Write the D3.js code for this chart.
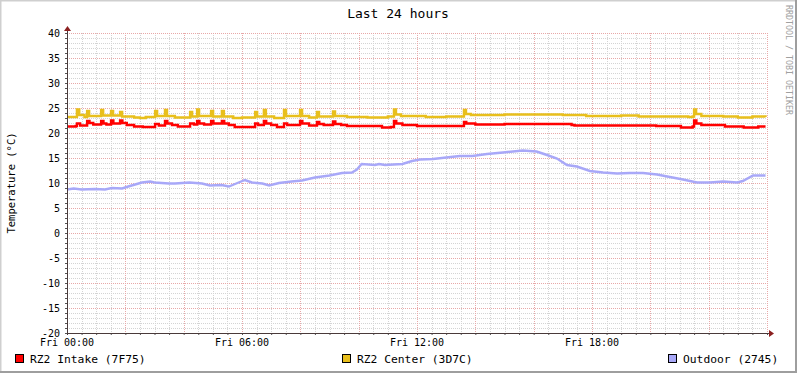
<!DOCTYPE html>
<html>
<head>
<meta charset="utf-8">
<script src="https://cdn.jsdelivr.net/npm/d3@7"></script>
<style>
  body { margin: 0; background: #fff; }
  text { font-family: "DejaVu Sans Mono", monospace; fill: #000; }
</style>
</head>
<body>
<div id="chart"></div>
<script>
// data: [hour since Fri 00:00, temperature °C]
var intake = [
  [0, 21.3], [0.3, 21.4], [0.34, 21.9], [0.45, 21.5], [0.69, 22.4], [0.77, 22.0], [0.9, 21.7],
  [1.17, 22.4], [1.25, 21.9], [1.35, 21.7], [1.51, 22.5], [1.59, 21.9], [1.82, 22.5], [1.9, 22.0], [2.05, 21.6],
  [2.3, 21.3], [2.6, 21.2], [3.02, 21.8], [3.15, 21.5], [3.36, 22.4], [3.44, 21.9], [3.6, 21.6], [3.8, 21.3],
  [4.22, 21.9], [4.35, 21.7], [4.46, 22.4], [4.54, 21.9], [4.7, 21.7], [4.94, 22.4], [5.02, 21.9], [5.31, 22.4],
  [5.39, 21.9], [5.55, 21.6], [5.75, 21.2], [6.45, 21.9], [6.55, 21.6], [6.75, 22.4], [6.83, 21.9], [7.0, 21.6], [7.2, 21.2],
  [7.44, 21.9], [7.55, 21.6], [7.99, 22.4], [8.07, 21.9], [8.3, 21.5], [8.57, 22.2], [8.65, 21.8], [8.8, 21.6],
  [9.12, 22.3], [9.2, 21.8], [9.4, 21.6], [9.6, 21.4], [10.8, 21.1], [11.1, 21.2], [11.21, 22.4], [11.29, 21.9],
  [11.5, 21.6], [12.0, 21.4], [13.61, 22.2], [13.69, 21.9], [14.0, 21.7], [15.0, 21.8], [17.3, 21.6],
  [17.4, 21.5], [20.2, 21.4], [21.05, 21.1], [21.45, 21.3], [21.5, 22.5], [21.58, 21.9], [21.75, 21.6],
  [22.56, 21.3], [23.2, 21.1], [23.7, 21.3], [23.95, 21.3]
];
var center = [
  [0, 23.2], [0.3, 23.2], [0.34, 24.7], [0.42, 23.6], [0.6, 23.2], [0.69, 24.4], [0.76, 23.4],
  [1.17, 24.6], [1.24, 23.5], [1.51, 24.4], [1.58, 23.5], [1.82, 24.2], [1.89, 23.3], [2.3, 23.1],
  [2.5, 23.0], [2.7, 23.2], [3.02, 24.4], [3.09, 23.4], [3.36, 24.6], [3.43, 23.4], [3.7, 23.1],
  [4.22, 24.2], [4.29, 23.3], [4.46, 24.7], [4.53, 23.4], [4.94, 24.4], [5.01, 23.3], [5.31, 24.4],
  [5.38, 23.3], [5.7, 23.0], [6.0, 23.1], [6.45, 24.2], [6.52, 23.3], [6.75, 24.6], [6.82, 23.3],
  [7.1, 23.0], [7.44, 24.6], [7.51, 23.4], [7.99, 24.6], [8.06, 23.4], [8.3, 23.1], [8.57, 24.2],
  [8.64, 23.3], [9.12, 24.3], [9.19, 23.4], [9.6, 23.2], [10.3, 23.1], [11.0, 23.3], [11.21, 24.7],
  [11.28, 23.7], [11.45, 23.4], [12.3, 23.2], [13.0, 23.3], [13.61, 24.6], [13.68, 23.8], [13.85, 23.6],
  [15.0, 23.7], [17.0, 23.6], [17.8, 23.4], [19.0, 23.5], [19.6, 23.3], [21.3, 23.2], [21.45, 23.3],
  [21.5, 24.7], [21.57, 23.8], [21.75, 23.4], [22.5, 23.3], [23.0, 23.1], [23.5, 23.3], [23.95, 23.2]
];
var outdoor = [
  [0, 8.7], [0.23, 8.9], [0.5, 8.7], [0.96, 8.8], [1.3, 8.7], [1.54, 9.0], [1.89, 8.9], [2.1, 9.3],
  [2.57, 10.1], [2.85, 10.3], [3.0, 10.1], [3.5, 9.9], [3.7, 9.9], [4.2, 10.1], [4.63, 9.9], [4.9, 9.5],
  [5.3, 9.6], [5.55, 9.3], [5.76, 9.8], [6.1, 10.6], [6.34, 10.1], [6.7, 9.9], [6.93, 9.5], [7.27, 10.0],
  [7.7, 10.3], [8.06, 10.5], [8.5, 11.1], [9.0, 11.5], [9.43, 12.0], [9.77, 12.1], [9.94, 12.7],
  [10.1, 13.8], [10.56, 13.6], [10.7, 13.8], [10.9, 13.6], [11.5, 13.8], [11.83, 14.4], [12.1, 14.7],
  [12.55, 14.8], [13.0, 15.1], [13.47, 15.4], [13.9, 15.4], [14.4, 15.8], [14.95, 16.1], [15.63, 16.5],
  [16.1, 16.3], [16.46, 15.6], [16.8, 14.9], [17.14, 13.6], [17.48, 13.3], [17.93, 12.4], [18.38, 12.1],
  [18.86, 11.9], [19.3, 12.0], [19.75, 12.0], [20.23, 11.7], [20.67, 11.2], [21.12, 10.7], [21.6, 10.1],
  [22.04, 10.1], [22.5, 10.3], [22.97, 10.1], [23.17, 10.4], [23.52, 11.5], [23.95, 11.5]
];
var seriesNames = ["RZ2 Intake (7F75)", "RZ2 Center (3D7C)", "Outdoor (2745)"];
var seriesColors = ["#ff0000", "#e8bf1c", "#a8a8f8"];
var yTicks = [-20, -15, -10, -5, 0, 5, 10, 15, 20, 25, 30, 35, 40];
var xLabels = ["Fri 00:00", "Fri 06:00", "Fri 12:00", "Fri 18:00"];

var svgWidth = 797;
var svgHeight = 373;
var margin = { top: 33, left: 67 };
var width = 700;
var height = 300;

var svg = d3.select("#chart")
  .append("svg")
  .attr("width", svgWidth)
  .attr("height", svgHeight);

// frame (3d look like rrdtool)
svg.append("rect").attr("width", svgWidth).attr("height", svgHeight).attr("fill", "#fff");
svg.append("path").attr("d", `M0.5,${svgHeight} V0.5 H${svgWidth}`)
  .attr("stroke", "#cfcfcf").attr("stroke-width", 2).attr("fill", "none");
svg.append("path").attr("d", `M${svgWidth - 1},0 V${svgHeight - 1} H0`)
  .attr("stroke", "#9e9e9e").attr("stroke-width", 2).attr("fill", "none");

var chartGroup = svg.append("g")
  .attr("transform", `translate(${margin.left}, ${margin.top})`);

var x = d3.scaleLinear().domain([0, 24]).range([0, width]);
var y = d3.scaleLinear().domain([-20, 40]).range([height, 0]);

// grid: minor every 30 min / 1 degree, major every 2h / 5 degrees
var minorX = d3.range(0, 24.01, 0.5).filter(h => h % 2 !== 0);
var majorX = d3.range(0, 24.01, 2);
var minorY = d3.range(-20, 40.01, 1).filter(v => v % 5 !== 0);

chartGroup.append("g").selectAll("line").data(minorX).enter().append("line")
  .attr("x1", d => Math.round(x(d)) + 0.5).attr("x2", d => Math.round(x(d)) + 0.5)
  .attr("y1", 0).attr("y2", height)
  .attr("stroke", "#d4d4d4").attr("stroke-dasharray", "1,1");
chartGroup.append("g").selectAll("line").data(minorY).enter().append("line")
  .attr("y1", d => Math.round(y(d)) + 0.5).attr("y2", d => Math.round(y(d)) + 0.5)
  .attr("x1", 0).attr("x2", width)
  .attr("stroke", "#d4d4d4").attr("stroke-dasharray", "1,1");
chartGroup.append("g").selectAll("line").data(majorX).enter().append("line")
  .attr("x1", d => Math.round(x(d)) + 0.5).attr("x2", d => Math.round(x(d)) + 0.5)
  .attr("y1", 0).attr("y2", height)
  .attr("stroke", "#e8a8a8").attr("stroke-dasharray", "1,1");
chartGroup.append("g").selectAll("line").data(yTicks).enter().append("line")
  .attr("y1", d => Math.round(y(d)) + 0.5).attr("y2", d => Math.round(y(d)) + 0.5)
  .attr("x1", 0).attr("x2", width)
  .attr("stroke", "#e8a8a8").attr("stroke-dasharray", "1,1");

// series lines
var line = d3.line().x(d => x(d[0])).y(d => y(d[1]));
var allSeries = [outdoor, center, intake];
var allColors = [seriesColors[2], seriesColors[1], seriesColors[0]];
allSeries.forEach(function(s, i) {
  chartGroup.append("path")
    .datum(s)
    .attr("fill", "none")
    .attr("stroke", allColors[i])
    .attr("stroke-width", 2.4)
    .attr("d", i === 0 ? line.curve(d3.curveLinear)(s) : line.curve(d3.curveStepAfter)(s));
});

// axes
var xAxis = d3.axisBottom(x).tickValues(d3.range(0, 24.01, 0.5)).tickSize(2).tickFormat("");
var yAxis = d3.axisLeft(y).tickValues(d3.range(-20, 40.01, 1)).tickSize(2).tickFormat("");
chartGroup.append("g").attr("transform", `translate(0, ${height})`).call(xAxis)
  .call(g => g.select(".domain").remove())
  .selectAll("line").attr("stroke", "#555");
chartGroup.append("g").call(yAxis)
  .call(g => g.select(".domain").remove())
  .selectAll("line").attr("stroke", "#555");

chartGroup.append("line").attr("x1", 0).attr("x2", width + 2)
  .attr("y1", height + 0.5).attr("y2", height + 0.5).attr("stroke", "#4a3a3a");
chartGroup.append("line").attr("x1", 0.5).attr("x2", 0.5)
  .attr("y1", height + 2).attr("y2", -3).attr("stroke", "#4a3a3a");
// arrows
chartGroup.append("path").attr("d", `M${width + 2},${height - 3} L${width + 7},${height + 0.5} L${width + 2},${height + 4} Z`)
  .attr("fill", "#8b2020");
chartGroup.append("path").attr("d", `M-3,-2 L0.5,-7 L4,-2 Z`).attr("fill", "#8b2020");

// tick labels
chartGroup.append("g").selectAll("text").data(yTicks).enter().append("text")
  .attr("x", -7).attr("y", d => y(d) + 3.5)
  .attr("text-anchor", "end").attr("font-size", "10px")
  .text(d => d);
chartGroup.append("g").selectAll("text").data(xLabels).enter().append("text")
  .attr("x", (d, i) => x(i * 6)).attr("y", height + 13)
  .attr("text-anchor", "middle").attr("font-size", "10px")
  .text(d => d);

// title, axis label, watermark
svg.append("text").attr("x", 398).attr("y", 18).attr("text-anchor", "middle")
  .attr("font-size", "13px").text("Last 24 hours");
svg.append("text").attr("transform", "translate(15, 183) rotate(-90)")
  .attr("text-anchor", "middle").attr("font-size", "10.5px").text("Temperature (°C)");
svg.append("text").attr("transform", "translate(786, 5) rotate(90)")
  .attr("font-size", "8.3px").style("fill", "#a0a0a0").text("RRDTOOL / TOBI OETIKER");

// legend
var legendX = [15, 342, 668];
var legend = svg.append("g").selectAll("g").data(seriesNames).enter().append("g")
  .attr("transform", (d, i) => `translate(${legendX[i]}, 354)`);
legend.append("rect").attr("x", 0.5).attr("y", 0.5).attr("width", 8).attr("height", 8)
  .attr("fill", (d, i) => seriesColors[i]).attr("stroke", "#000");
legend.append("text").attr("x", 15).attr("y", 8.5).attr("font-size", "11.3px").text(d => d);
</script>
</body>
</html>
